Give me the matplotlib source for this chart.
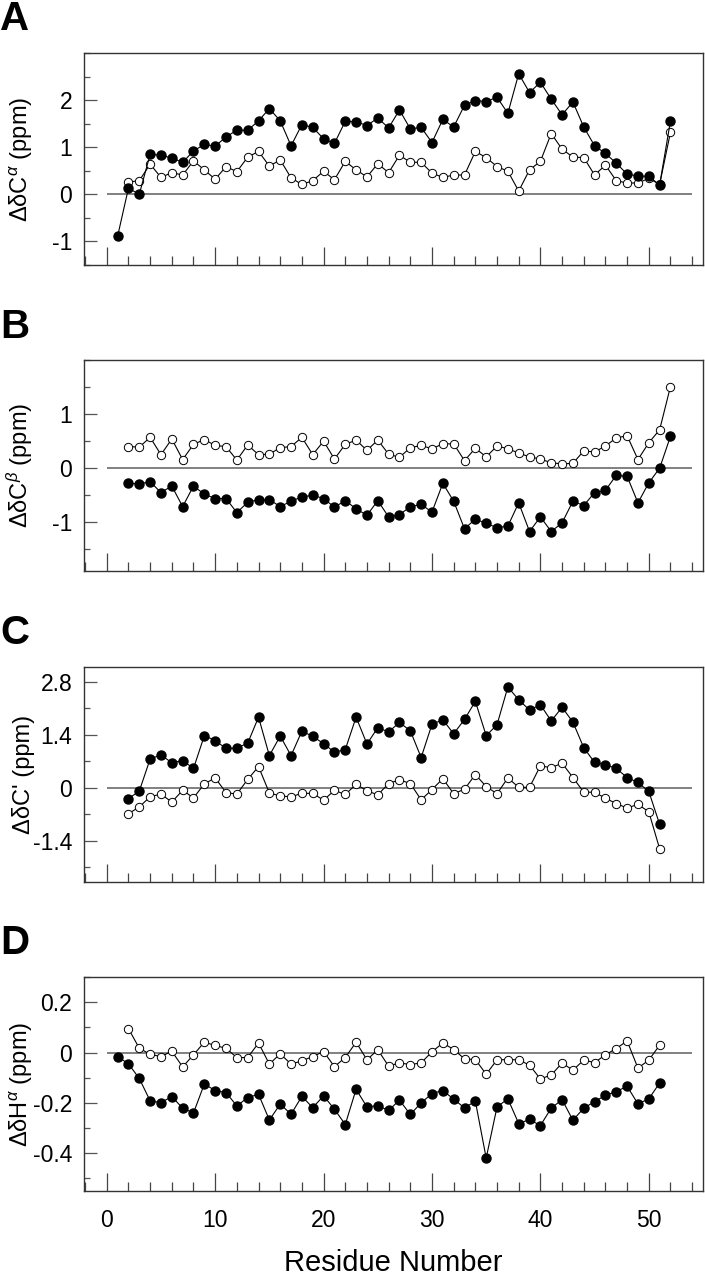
import numpy as np
import matplotlib
matplotlib.use("Agg")
import matplotlib.pyplot as plt
from matplotlib.ticker import MultipleLocator

plt.rcParams['font.family'] = ['Liberation Sans', 'DejaVu Sans']
plt.rcParams['mathtext.fontset'] = 'custom'
plt.rcParams['mathtext.rm'] = 'Liberation Sans'
plt.rcParams['mathtext.it'] = 'Liberation Sans:italic'

# ---- data ----
res_a = np.arange(1, 53)
ca_filled = [-0.89, 0.13, 0.00, 0.85, 0.83, 0.77, 0.68, 0.92, 1.06, 1.02,
             1.22, 1.36, 1.36, 1.56, 1.82, 1.56, 1.03, 1.48, 1.42, 1.18,
             1.08, 1.55, 1.54, 1.46, 1.62, 1.41, 1.79, 1.39, 1.42, 1.10,
             1.59, 1.43, 1.89, 1.99, 1.97, 2.06, 1.72, 2.56, 2.16, 2.38,
             2.02, 1.69, 1.96, 1.43, 1.03, 0.87, 0.66, 0.43, 0.39, 0.38,
             0.20, 1.56]
res_a_open = np.arange(2, 53)
ca_open = [0.26, 0.29, 0.64, 0.36, 0.46, 0.41, 0.71, 0.52, 0.32, 0.59,
           0.48, 0.79, 0.91, 0.60, 0.73, 0.35, 0.21, 0.29, 0.49, 0.31,
           0.70, 0.52, 0.37, 0.65, 0.46, 0.83, 0.68, 0.68, 0.45, 0.36,
           0.41, 0.41, 0.91, 0.78, 0.59, 0.49, 0.07, 0.52, 0.70, 1.29,
           0.96, 0.79, 0.78, 0.41, 0.62, 0.29, 0.24, 0.24, 0.34, 0.21,
           1.32]

res_b = np.arange(2, 53)
cb_open = [0.40, 0.39, 0.57, 0.25, 0.54, 0.16, 0.44, 0.53, 0.42, 0.40,
           0.15, 0.43, 0.25, 0.26, 0.38, 0.40, 0.57, 0.25, 0.50, 0.17,
           0.44, 0.52, 0.33, 0.52, 0.26, 0.20, 0.38, 0.42, 0.36, 0.45,
           0.45, 0.14, 0.37, 0.21, 0.41, 0.36, 0.28, 0.21, 0.17, 0.10,
           0.08, 0.09, 0.32, 0.30, 0.41, 0.56, 0.60, 0.16, 0.47, 0.71,
           1.51]
cb_filled = [-0.28, -0.29, -0.25, -0.45, -0.33, -0.71, -0.33, -0.48, -0.56, -0.56,
             -0.82, -0.63, -0.58, -0.58, -0.71, -0.61, -0.53, -0.50, -0.56, -0.72,
             -0.60, -0.75, -0.87, -0.60, -0.90, -0.86, -0.71, -0.67, -0.81, -0.28,
             -0.61, -1.12, -0.94, -1.02, -1.10, -1.07, -0.64, -1.17, -0.90, -1.17,
             -1.01, -0.61, -0.69, -0.45, -0.41, -0.13, -0.15, -0.64, -0.27, 0.00,
             0.59]

res_c = np.arange(2, 52)
cp_filled = [-0.29, -0.09, 0.76, 0.87, 0.66, 0.72, 0.51, 1.38, 1.25, 1.04,
             1.05, 1.18, 1.87, 0.85, 1.37, 0.85, 1.50, 1.36, 1.17, 0.94,
             1.01, 1.87, 1.16, 1.59, 1.48, 1.73, 1.51, 0.80, 1.68, 1.80,
             1.43, 1.81, 2.29, 1.38, 1.67, 2.67, 2.33, 2.06, 2.20, 1.77,
             2.13, 1.74, 1.06, 0.67, 0.61, 0.51, 0.27, 0.14, -0.10, -0.97]
cp_open = [-0.69, -0.51, -0.24, -0.17, -0.38, -0.07, -0.27, 0.10, 0.26, -0.13,
           -0.17, 0.22, 0.56, -0.14, -0.22, -0.24, -0.15, -0.15, -0.33, -0.07,
           -0.18, 0.09, -0.08, -0.19, 0.11, 0.21, 0.11, -0.32, -0.05, 0.24,
           -0.16, -0.04, 0.35, 0.03, -0.16, 0.26, 0.01, 0.01, 0.58, 0.53,
           0.65, 0.27, -0.12, -0.12, -0.28, -0.42, -0.54, -0.44, -0.64, -1.62]

res_d = np.arange(1, 52)
ha_filled = [-0.016, -0.045, -0.103, -0.192, -0.199, -0.175, -0.221, -0.240, -0.125, -0.151,
             -0.159, -0.212, -0.179, -0.166, -0.268, -0.205, -0.245, -0.174, -0.219, -0.172,
             -0.225, -0.286, -0.146, -0.216, -0.211, -0.230, -0.189, -0.246, -0.200, -0.163,
             -0.151, -0.185, -0.220, -0.193, -0.419, -0.216, -0.184, -0.282, -0.266, -0.290,
             -0.221, -0.187, -0.269, -0.221, -0.195, -0.170, -0.155, -0.134, -0.204, -0.184,
             -0.121]
res_d_open = np.arange(2, 52)
ha_open = [0.095, 0.017, -0.007, -0.016, 0.005, -0.057, -0.009, 0.041, 0.028, 0.017,
           -0.020, -0.020, 0.038, -0.046, -0.005, -0.046, -0.033, -0.016, 0.004, -0.056,
           -0.020, 0.041, -0.029, 0.011, -0.054, -0.041, -0.048, -0.041, 0.003, 0.038,
           0.012, -0.025, -0.028, -0.086, -0.029, -0.028, -0.029, -0.050, -0.105, -0.089,
           -0.042, -0.070, -0.030, -0.040, -0.009, 0.016, 0.046, -0.062, -0.030, 0.029]

panels = [
    ("A", r"ΔδC$^{\alpha}$ (ppm)", res_a, ca_filled, res_a_open, ca_open,
     (-1.5, 3.0), 0.5, [-1, 0, 1, 2], ["-1", "0", "1", "2"]),
    ("B", r"ΔδC$^{\beta}$ (ppm)", res_b, cb_filled, res_b, cb_open,
     (-1.9, 2.0), 0.5, [-1, 0, 1], ["-1", "0", "1"]),
    ("C", "ΔδC' (ppm)", res_c, cp_filled, res_c, cp_open,
     (-2.5, 3.2), 0.7, [-1.4, 0, 1.4, 2.8], ["-1.4", "0", "1.4", "2.8"]),
    ("D", r"ΔδH$^{\alpha}$ (ppm)", res_d, ha_filled, res_d_open, ha_open,
     (-0.55, 0.3), 0.1, [-0.4, -0.2, 0, 0.2], ["-0.4", "-0.2", "0", "0.2"]),
]

W, H = 705, 1280
fig = plt.figure(figsize=(W / 100, H / 100), dpi=100)

# (top, bottom) of each frame in pixels
frames = [(53, 265), (360, 571), (667, 882), (977, 1191)]
letter_y = [19, 327, 633, 943]
left, right = 84, 703

for i, (letter, ylab, xf, yf, xo, yo, ylim, minor, yt, ytl) in enumerate(panels):
    top, bot = frames[i]
    ax = fig.add_axes([left / W, 1 - bot / H, (right - left) / W, (bot - top) / H])
    ax.hlines(0, 0, 54, color="#808080", lw=1.4, zorder=1)
    ax.plot(xo, yo, "-o", color="black", lw=0.8, ms=6.0, mfc="white",
            mec="black", mew=0.7, zorder=2)
    ax.plot(xf, yf, "-o", color="black", lw=0.8, ms=6.5, mfc="black",
            mec="black", zorder=3)
    ax.set_xlim(-2.1, 55)
    ax.set_ylim(*ylim)
    ax.xaxis.set_major_locator(MultipleLocator(10))
    ax.xaxis.set_minor_locator(MultipleLocator(2))
    ax.yaxis.set_minor_locator(MultipleLocator(minor))
    ax.set_yticks(yt)
    ax.set_yticklabels(ytl)
    ax.tick_params(axis="x", which="major", direction="in", length=13, width=0.9,
                   color="#444444", top=False)
    ax.tick_params(axis="x", which="minor", direction="in", length=6.5, width=0.9,
                   color="#444444", top=False)
    ax.tick_params(axis="y", which="major", direction="in", length=9.5, width=0.9,
                   color="#555555", labelsize=16.5, pad=8.5, right=False)
    ax.tick_params(axis="y", which="minor", direction="in", length=4.5, width=0.9,
                   color="#555555", right=False)
    for sp in ax.spines.values():
        sp.set_color("#333333")
        sp.set_linewidth(1.0)
    if letter == "D":
        ax.tick_params(axis="x", labelsize=16.5, pad=13)
        ax.set_xlabel("Residue Number", fontsize=21, labelpad=12)
    else:
        ax.tick_params(axis="x", labelbottom=False)
    ax.set_ylabel(ylab, fontsize=17)
    ax.yaxis.set_label_coords(-49 / (right - left), 0.5)
    fig.text(0 / W, 1 - letter_y[i] / H, letter, fontsize=29, fontweight="bold",
             ha="left", va="center")

fig.savefig("out.png", dpi=100)
